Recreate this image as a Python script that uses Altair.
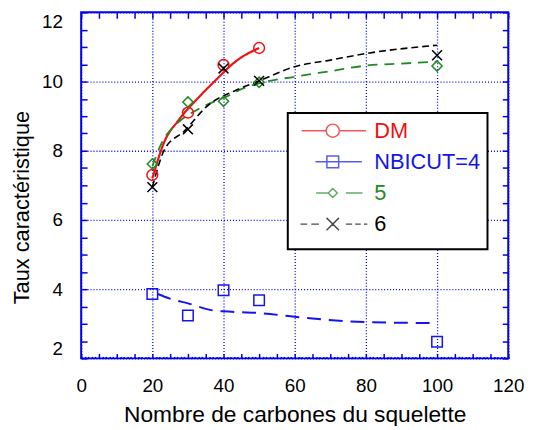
import altair as alt
import pandas as pd

# ---------------- data ----------------
SERIES = ["DM", "NBICUT=4", "5", "6"]
COLORS = ["#ee1111", "#1414ee", "#238a23", "#000000"]

# measured points
dm_x = [20, 30, 40, 50]
dm_y = [7.3, 9.1, 10.48, 10.97]
n4_x = [20, 30, 40, 50, 100]
n4_y = [3.86, 3.24, 3.97, 3.68, 2.48]
n5_x = [20, 30, 40, 50, 100]
n5_y = [7.62, 9.41, 9.43, 9.98, 10.45]
n6_x = [20, 30, 40, 50, 100]
n6_y = [6.95, 8.62, 10.38, 10.02, 10.76]

# fitted curves
dm_fit_x = [20, 23.5, 27.2, 32.8, 37.4, 43.9, 50]
dm_fit_y = [7.2, 8.29, 8.86, 9.52, 10.0, 10.62, 10.97]
n4_fit_x = [21.5, 25.4, 30, 37.4, 40, 51.3, 60, 80, 100]
n4_fit_y = [3.86, 3.71, 3.59, 3.38, 3.36, 3.3, 3.2, 3.05, 3.02]
n5_fit_x = [20, 22.5, 27.2, 32, 38, 41, 45, 50, 60, 70, 80, 90, 100]
n5_fit_y = [7.55, 8.2, 8.81, 9.15, 9.45, 9.57, 9.78, 9.95, 10.14, 10.3, 10.46, 10.52, 10.58]
n6_fit_x = [20, 23.5, 29, 35.5, 43.5, 50, 60, 70, 80, 100]
n6_fit_y = [6.95, 8.05, 8.57, 9.3, 9.75, 10.02, 10.43, 10.62, 10.81, 11.05]

X_LABELS = [0, 20, 40, 60, 80, 100, 120]
Y_LABELS = [2, 4, 6, 8, 10, 12]

# ---------------- styles ----------------
DASHES = [[1, 0], [14, 8], [10, 7], [7, 4]]
WIDTHS = [2.2, 1.6, 1.6, 1.6]
MARKERS = ["circle", "square", "diamond", "M-1,-1L1,1M-1,1L1,-1"]
SIZES = [120, 100, 60, 90]
LEGEND_SYMBOLS = [
    "M-4.5,0L-0.95,0M0.95,0L4.8,0M-0.95,0A0.95,0.95 0 1,0 0.95,0A0.95,0.95 0 1,0 -0.95,0",
    "M-2.5,0L4.2,0M-0.85,-0.85L0.85,-0.85L0.85,0.85L-0.85,0.85Z",
    "M-2.4,0L-0.65,0M0,-0.65L0.65,0L0,0.65L-0.65,0ZM1.9,0L4.3,0",
    "M-4.66,0L-3.7,0M-3.1,0L-2.0,0M-0.9,-0.9L0.9,0.9M-0.9,0.9L0.9,-0.9M1.9,0L2.8,0M3.25,0L4.05,0M4.5,0L5.0,0",
]
BLUE = "#0000ee"
FONT = "Liberation Sans"


def long(name, xs, ys):
    return pd.DataFrame({"series": name, "x": xs, "y": ys})


curve_df = pd.concat([
    long("DM", dm_fit_x, dm_fit_y),
    long("NBICUT=4", n4_fit_x, n4_fit_y),
    long("5", n5_fit_x, n5_fit_y),
    long("6", n6_fit_x, n6_fit_y),
])
point_df = pd.concat([
    long("DM", dm_x, dm_y),
    long("NBICUT=4", n4_x, n4_y),
    long("5", n5_x, n5_y),
    long("6", n6_x, n6_y),
])

xs = alt.Scale(domain=[0, 120], nice=False, zero=False)
ys = alt.Scale(domain=[2, 12], nice=False, zero=False)


def step_values(lo, hi, step):
    out, v = [], lo
    while v <= hi + 1e-9:
        out.append(round(v, 3))
        v += step
    return out


def tick_axis(orient, size, values):
    return alt.Axis(orient=orient, offset=-size, tickSize=size, values=values,
                    labels=False, domain=False, grid=False, title=None,
                    tickColor=BLUE, tickWidth=1.5)


axis_main_x = alt.Axis(
    orient="bottom", values=X_LABELS, labelFlush=False, labelFontSize=19,
    labelPadding=19, ticks=False, tickSize=0, domain=False,
    grid=True, gridColor=BLUE, gridDash=[1, 2], gridWidth=1.3, gridOpacity=1,
    title="Nombre de carbones du squelette", titleFontSize=23,
    titleFontWeight="normal", titlePadding=8, labelColor="black",
)
axis_main_y = alt.Axis(
    orient="left", values=Y_LABELS, labelFlush=True, labelFontSize=19,
    labelPadding=19, ticks=False, tickSize=0, domain=False,
    grid=True, gridColor=BLUE, gridDash=[1, 2], gridWidth=1.3, gridOpacity=1,
    title="Taux caractéristique", titleFontSize=22, titleFontWeight="normal",
    titleX=-60, titleY=197, titleAngle=270, titleAlign="center",
    titleBaseline="middle", labelColor="black",
)

label_expr = " : ".join(
    f"datum.label === '{s}' ? '{c}'" for s, c in zip(SERIES[:-1], COLORS[:-1])
) + f" : '{COLORS[-1]}'"

legend_props = dict(
    orient="none", legendX=209, legendY=101.7,
    title=" ", titleOrient="bottom", titleFontSize=4, titlePadding=3,
    padding=7, strokeColor="black", fillColor="white",
    labelFontSize=22, labelFont=FONT, labelColor={"expr": label_expr},
    symbolSize=196, symbolStrokeWidth=1.5, symbolOffset=27.5, labelOffset=31,
    rowPadding=9.5, labelBaseline="middle",
)

curves = alt.Chart(curve_df).mark_line(interpolate="monotone").encode(
    x=alt.X("x:Q", scale=xs, axis=axis_main_x),
    y=alt.Y("y:Q", scale=ys, axis=axis_main_y),
    color=alt.Color("series:N", scale=alt.Scale(domain=SERIES, range=COLORS), legend=None),
    strokeDash=alt.StrokeDash("series:N", scale=alt.Scale(domain=SERIES, range=DASHES), legend=None),
    strokeWidth=alt.StrokeWidth("series:N", scale=alt.Scale(domain=SERIES, range=WIDTHS), legend=None),
    detail="series:N",
)

points = alt.Chart(point_df).mark_point(filled=False, strokeWidth=1.5, opacity=1).encode(
    x=alt.X("x:Q", scale=xs, axis=tick_axis("bottom", 5, step_values(0, 120, 5))),
    y=alt.Y("y:Q", scale=ys, axis=tick_axis("left", 6, step_values(2, 12, 0.5))),
    color=alt.Color("series:N", scale=alt.Scale(domain=SERIES, range=COLORS), legend=None),
    shape=alt.Shape("series:N", scale=alt.Scale(domain=SERIES, range=MARKERS), legend=None),
    size=alt.Size("series:N", scale=alt.Scale(domain=SERIES, range=SIZES), legend=None),
)

legend_layer = alt.Chart(point_df).transform_filter("false").mark_point(
    filled=False, size=196, strokeWidth=1.5
).encode(
    x=alt.X("x:Q", scale=xs, axis=tick_axis("bottom", 2, step_values(0, 120, 1))),
    y=alt.Y("y:Q", scale=ys, axis=tick_axis("right", 6, step_values(2, 12, 0.5))),
    color=alt.Color("series:N", scale=alt.Scale(domain=SERIES, range=COLORS),
                    legend=alt.Legend(**legend_props)),
    shape=alt.Shape("series:N", scale=alt.Scale(domain=SERIES, range=LEGEND_SYMBOLS),
                    legend=alt.Legend(**legend_props)),
)

top_layer = alt.Chart(point_df).transform_filter("false").mark_point().encode(
    x=alt.X("x:Q", scale=xs, axis=tick_axis("top", 6, step_values(0, 120, 5))),
    y=alt.Y("y:Q", scale=ys, axis=None),
)

chart = alt.layer(curves, points, legend_layer, top_layer).resolve_axis(
    x="independent", y="independent"
).resolve_scale(
    color="independent", shape="independent"
).properties(
    width=432, height=350,
    autosize=alt.AutoSizeParams(type="none"),
    padding={"left": 74, "top": 2, "right": 22, "bottom": 66},
).configure(
    font=FONT,
).configure_view(
    stroke=BLUE, strokeWidth=2,
).configure_legend(
    strokeWidth=2,
)

chart.save("out.html", embed_options={"renderer": "svg", "actions": False})
